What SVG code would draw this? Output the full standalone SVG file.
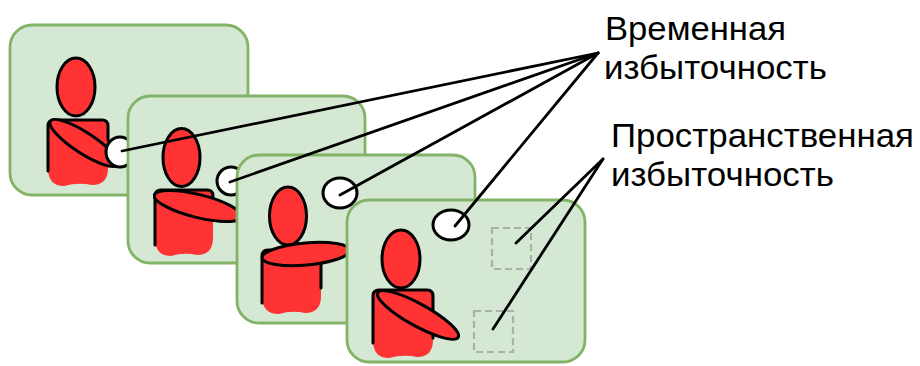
<svg xmlns="http://www.w3.org/2000/svg" width="920" height="366" viewBox="0 0 920 366">
  <style>
    .frame { fill: #d5e8d4; stroke: #82b366; stroke-width: 2.8; }
    .red { fill: #ff3333; stroke: none; }
    .ink { fill: none; stroke: #000; stroke-width: 3; stroke-linecap: round; stroke-linejoin: round; }
    .part { fill: #ff3333; stroke: #000; stroke-width: 3; }
    .obj { fill: #fff; stroke: #000; stroke-width: 3; }
    .region { fill: none; stroke: #a8b3a5; stroke-width: 2.2; stroke-dasharray: 7 4; }
    .link { stroke: #000; stroke-width: 2.8; stroke-linecap: round; fill: none; }
    .label { font-family: "Liberation Sans", Arial, sans-serif; font-size: 33px; fill: #000; }
  </style>
  <rect width="920" height="366" fill="#fff"/>

  <!-- frame 1 -->
  <g id="frame1">
    <rect class="frame" x="10" y="25" width="238" height="170" rx="22"/>
    <path class="red" d="M48,126 Q48,120 54,120 L102,120 Q108,120 108,126 L108,168 Q108,185 92,185 Q78,182 64,186 Q48,186 48,168 Z"/>
    <path class="ink" d="M48,171 L48,126 Q48,120 54,120 L102,120 Q108,120 108,126 L108,140"/>
    <ellipse class="part" cx="76" cy="87" rx="19" ry="29"/>
    <ellipse class="part" cx="84" cy="143" rx="40" ry="10.5" transform="rotate(33 84 143)"/>
    <ellipse class="obj" cx="120" cy="152" rx="14" ry="15"/>
  </g>

  <!-- frame 2 -->
  <g id="frame2">
    <rect class="frame" x="128" y="96" width="237" height="167" rx="22"/>
    <path class="red" d="M155,196 Q155,190 161,190 L207,190 Q213,190 213,196 L213,238 Q213,255 197,255 Q184,252 171,256 Q155,256 155,238 Z"/>
    <path class="ink" d="M155,245 L155,196 Q155,190 161,190 L207,190 Q213,190 213,196 L213,216"/>
    <ellipse class="part" cx="181.5" cy="157.5" rx="18.5" ry="29"/>
    <ellipse class="part" cx="198" cy="206" rx="45" ry="11.5" transform="rotate(14 198 206)"/>
    <ellipse class="obj" cx="231" cy="181" rx="14" ry="14"/>
  </g>

  <!-- frame 3 -->
  <g id="frame3">
    <rect class="frame" x="237" y="155" width="238" height="168" rx="22"/>
    <path class="red" d="M262,256 Q262,250 268,250 L315,250 Q321,250 321,256 L321,296 Q321,313 305,313 Q292,310 279,314 Q262,314 262,296 Z"/>
    <path class="ink" d="M262,303 L262,256 Q262,250 268,250 L315,250 Q321,250 321,256 L321,288"/>
    <ellipse class="part" cx="288" cy="216" rx="18.5" ry="29"/>
    <ellipse class="part" cx="306" cy="254" rx="44" ry="11" transform="rotate(-5 306 254)"/>
    <ellipse class="obj" cx="340" cy="193" rx="17" ry="15"/>
  </g>

  <!-- frame 4 -->
  <g id="frame4">
    <rect class="frame" x="347" y="200" width="238" height="162" rx="22"/>
    <path class="red" d="M373,296 Q373,290 379,290 L427,290 Q433,290 433,296 L433,340 Q433,357 417,357 Q403,354 389,358 Q373,358 373,340 Z"/>
    <path class="ink" d="M373,343 L373,296 Q373,290 379,290 L427,290 Q433,290 433,296 L433,338"/>
    <ellipse class="part" cx="401" cy="259" rx="19" ry="29"/>
    <ellipse class="part" cx="418" cy="315" rx="46" ry="11" transform="rotate(29 418 315)"/>
    <ellipse class="obj" cx="451" cy="225" rx="18" ry="15"/>
    <rect class="region" x="492" y="228" width="39" height="41"/>
    <rect class="region" x="474" y="311" width="39" height="41"/>
  </g>

  <!-- leader lines -->
  <g id="connectors">
    <line class="link" x1="598" y1="53" x2="122" y2="151"/>
    <line class="link" x1="598" y1="53" x2="230" y2="182"/>
    <line class="link" x1="598" y1="53" x2="340" y2="195"/>
    <line class="link" x1="598" y1="53" x2="455" y2="226"/>
    <line class="link" x1="603" y1="159" x2="516" y2="243"/>
    <line class="link" x1="603" y1="159" x2="493" y2="329"/>
  </g>

  <g id="label-temporal">
    <text class="label" x="605" y="40" textLength="181" lengthAdjust="spacingAndGlyphs">Временная</text>
    <text class="label" x="604" y="79" textLength="223" lengthAdjust="spacingAndGlyphs">избыточность</text>
  </g>
  <g id="label-spatial">
    <text class="label" x="611" y="147" textLength="303" lengthAdjust="spacingAndGlyphs">Пространственная</text>
    <text class="label" x="611" y="186" textLength="223" lengthAdjust="spacingAndGlyphs">избыточность</text>
  </g>
</svg>
